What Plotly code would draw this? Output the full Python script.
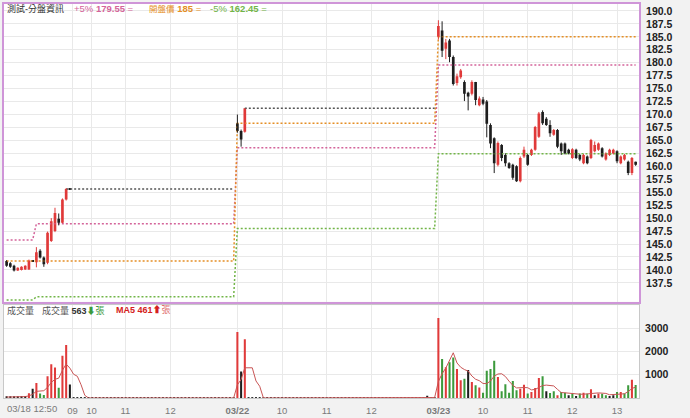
import numpy as np
import pandas as pd
import plotly.graph_objects as go

N_SLOTS = 170          # 5-minute slots along the shared time axis
X_RANGE = [-0.7, 169.9]

# ---- 03/18 session (from 12:50) ----
d1_start = 0
d1_open  = [141.7, 141.3, 140.8, 139.9, 140.0, 140.1, 140.1, 141.7, 141.5, 143.7, 142.4, 141.4, 145.6, 147.5, 149.9, 149.1, 153.6, 155.6]
d1_high  = [141.9, 141.5, 141.0, 140.5, 140.7, 140.9, 142.0, 141.8, 144.4, 144.0, 142.6, 147.4, 150.0, 152.0, 150.9, 153.8, 155.8, 155.6]
d1_low   = [140.6, 140.4, 139.7, 139.8, 139.9, 140.0, 140.0, 141.6, 140.5, 142.2, 140.6, 141.1, 145.4, 147.3, 148.6, 149.0, 153.4, 155.6]
d1_close = [140.8, 140.6, 139.9, 140.4, 140.6, 140.8, 141.8, 141.7, 143.4, 142.4, 141.1, 147.2, 149.4, 151.0, 149.1, 153.6, 155.6, 155.6]
d1_vol   = [40, 40, 40, 40, 90, 90, 200, 400, 650, 190, 130, 940, 1450, 1320, 440, 1820, 2280, 580]
d1_dir   = list('kkkkkkrkrggrrrgrrk')

# ---- 03/22 session ----
d2_start = 62
d2_open  = [168.3, 166.8, 166.7]
d2_high  = [170.0, 167.1, 171.2]
d2_low   = [166.5, 163.8, 166.5]
d2_close = [166.8, 165.2, 171.2]
d2_vol   = [2840, 1140, 2530]
d2_dir   = list('rkr')
late_slot = [113]
late_vol  = [100]
late_dir  = ['k']

# ---- 03/23 session ----
d3_start = 116
d3_open  = [185.0, 186.2, 182.7, 184.3, 181.1, 176.1, 177.2, 176.3, 174.2, 174.0, 176.3, 171.8, 172.9,
            172.5, 168.0, 165.4, 160.3, 164.1, 162.2, 160.6, 160.3, 160.0, 157.1, 161.9, 162.2, 162.2, 163.2,
            165.7, 170.5, 169.2, 168.0, 166.1, 167.0, 164.4, 164.4, 163.2, 161.6, 163.2, 162.2, 160.6, 161.9,
            161.6, 162.9, 163.2, 163.5, 161.3, 162.2, 162.5, 162.9, 160.6, 161.3, 160.9, 158.7, 160.9]
d3_close = [187.1, 182.3, 183.9, 181.1, 175.9, 177.4, 178.5, 174.0, 173.5, 176.3, 172.8, 173.1, 172.1,
            168.2, 164.4, 160.6, 164.5, 161.6, 160.6, 159.7, 157.8, 157.1, 161.6, 163.2, 160.3, 163.2, 167.6,
            170.2, 168.3, 168.0, 166.4, 167.0, 163.8, 162.9, 162.5, 162.5, 163.3, 161.6, 161.3, 162.2, 160.6,
            165.1, 164.1, 164.4, 161.9, 162.5, 163.2, 163.2, 161.0, 161.9, 162.2, 158.7, 161.6, 160.3]
d3_high  = [188.2, 188.0, 184.6, 184.6, 181.4, 177.9, 178.8, 176.6, 174.4, 176.6, 176.3, 173.5, 173.4,
            172.8, 168.3, 165.6, 164.8, 164.3, 162.5, 160.8, 160.5, 160.2, 161.9, 163.8, 162.4, 163.4, 167.8,
            170.5, 170.8, 169.5, 168.9, 167.2, 167.2, 164.6, 164.6, 163.4, 163.5, 163.4, 162.4, 162.4, 162.1,
            165.3, 164.8, 164.6, 163.7, 162.7, 163.4, 163.4, 163.1, 162.1, 162.4, 161.1, 161.8, 160.9]
d3_low   = [184.5, 181.1, 180.7, 180.1, 175.6, 175.6, 176.9, 172.6, 170.8, 173.7, 171.8, 171.6, 171.8,
            165.6, 163.5, 158.7, 160.0, 161.0, 160.0, 159.5, 157.4, 157.0, 156.9, 161.6, 160.1, 162.0, 163.0,
            165.5, 168.0, 167.8, 165.7, 165.9, 163.5, 162.2, 162.3, 162.3, 161.4, 161.4, 161.0, 160.4, 160.4,
            161.4, 162.7, 163.0, 161.7, 161.1, 162.0, 162.3, 160.6, 160.4, 161.1, 158.3, 158.3, 160.1]
d3_vol   = [3450, 1680, 1330, 1540, 1750, 1250, 760, 830, 1210, 690, 550, 450, 230,
            1180, 1250, 1610, 900, 290, 590, 230, 730, 330, 400, 570, 190, 260, 430,
            860, 940, 290, 220, 290, 120, 260, 230, 120, 190, 90, 190, 230, 180,
            380, 120, 190, 180, 120, 90, 120, 260, 260, 190, 550, 790, 563]
d3_dir   = list('rgrggrrgkrgrg' + 'gggrgggggrrgrrrgkggrggkgkgrgrkrggkkgrggrg')

# reference lines: +5% / open / -5% / last close
band_start = [0, 8, 62, 116]
band_up    = [145.8, 148.9, 163.6, 179.55]
band_dn    = [134.2, 134.8, 148.0, 162.45]
open_start = [0, 62, 116]
open_lvl   = [141.7, 168.3, 185.0]
close_from = [16, 64]
close_to   = [61, 115]
close_lvl  = [155.6, 171.2]

tick_slots = [17.7, 22.8, 31.9, 44.0, 62, 74, 86, 98, 116, 128, 140, 152, 164]
tick_text  = ['09', '10', '11', '12', '<b>03/22</b>', '10', '11', '12', '<b>03/23</b>', '10', '11', '12', '13']
first_label = '03/18 12:50'
price_ticks = [137.5 + 2.5 * i for i in range(22)]
vol_ticks = [1000, 2000, 3000]
title_text = '測試-分盤資訊'
ma5_shown = 461

FONT = 'Liberation Sans, Noto Sans CJK TC, sans-serif'
PURPLE = '#cf95d8'
GRID = '#e9e9e9'
RED = '#e03a3a'
GREEN = '#3c9a3c'
BLACK = '#1e1e1e'
PINK = '#d4649a'
ORANGE = '#e58f26'
LGREEN = '#72b548'


def px_x(px):
    return (px - 2) / 637


def px_y(py):
    return (400 - py) / 397


def fill_steps(starts, levels):
    y = np.empty(N_SLOTS)
    bounds = list(starts) + [N_SLOTS]
    for i, lv in enumerate(levels):
        y[bounds[i]:bounds[i + 1]] = lv
    return y


slots = np.arange(N_SLOTS)

# candles
cx, co, ch, cl, cc = [], [], [], [], []
for start, o, h, l, c in [(d1_start, d1_open, d1_high, d1_low, d1_close),
                          (d2_start, d2_open, d2_high, d2_low, d2_close),
                          (d3_start, d3_open, d3_high, d3_low, d3_close)]:
    cx += list(range(start, start + len(o)))
    co += o; ch += h; cl += l; cc += c
cx, co, ch, cl, cc = map(np.array, (cx, co, ch, cl, cc))
up = cc > co

# volume
vol = np.zeros(N_SLOTS)
vdir = np.array(['k'] * N_SLOTS, dtype=object)
for start, v, d in [(d1_start, d1_vol, d1_dir), (d2_start, d2_vol, d2_dir), (d3_start, d3_vol, d3_dir)]:
    vol[start:start + len(v)] = v
    vdir[start:start + len(v)] = d
for s, v, d in zip(late_slot, late_vol, late_dir):
    vol[s] = v
    vdir[s] = d
ma5 = pd.Series(vol).rolling(5, min_periods=1).mean()
vcol = {'r': RED, 'g': GREEN, 'k': BLACK}

fig = go.Figure()

# step lines in price panel
dotted = '2px,2px'
fig.add_trace(go.Scatter(x=slots, y=fill_steps(band_start, band_dn), mode='lines',
                         line=dict(color=LGREEN, width=1.5, dash=dotted), xaxis='x2', yaxis='y'))
fig.add_trace(go.Scatter(x=slots, y=fill_steps(band_start, band_up), mode='lines',
                         line=dict(color=PINK, width=1.5, dash=dotted), xaxis='x2', yaxis='y'))
fig.add_trace(go.Scatter(x=slots, y=fill_steps(open_start, open_lvl), mode='lines',
                         line=dict(color=ORANGE, width=1.5, dash=dotted), xaxis='x2', yaxis='y'))
kx, ky = [], []
for a, b, lv in zip(close_from, close_to, close_lvl):
    kx += [a, b, None]
    ky += [lv, lv, None]
fig.add_trace(go.Scatter(x=kx, y=ky, mode='lines', line=dict(color='#555555', width=1.5, dash=dotted),
                         xaxis='x2', yaxis='y'))

# wicks
for mask, col in [(up, RED), (~up, BLACK)]:
    wx, wy = [], []
    for s, h, l in zip(cx[mask], ch[mask], cl[mask]):
        wx += [s, s, None]
        wy += [l, h, None]
    fig.add_trace(go.Scatter(x=wx, y=wy, mode='lines', line=dict(color=col, width=1),
                             xaxis='x2', yaxis='y'))

# bodies
fig.add_trace(go.Bar(x=cx, y=np.maximum(np.abs(cc - co), 0.15), base=np.minimum(co, cc),
                     width=0.72, marker=dict(color=[RED if u else BLACK for u in up], line_width=0),
                     xaxis='x2', yaxis='y'))

# volume bars
nz = vol > 0
fig.add_trace(go.Bar(x=slots[nz], y=vol[nz], width=0.55,
                     marker=dict(color=[vcol[d] for d in vdir[nz]], line_width=0),
                     xaxis='x', yaxis='y2'))
fig.add_trace(go.Scatter(x=slots[~nz], y=vol[~nz], mode='markers', cliponaxis=False,
                         marker=dict(symbol='square', size=2, color='#333333'),
                         xaxis='x', yaxis='y2'))
fig.add_trace(go.Scatter(x=slots, y=ma5, mode='lines', line=dict(color='#c85555', width=1),
                         xaxis='x', yaxis='y2'))

price_bottom = px_y(303)
vol_top = px_y(306.5)

fig.update_layout(
    width=690, height=418,
    margin=dict(l=2, r=51, t=3, b=18),
    paper_bgcolor='#f2f2f2', plot_bgcolor='white',
    showlegend=False, barmode='overlay', hovermode=False,
    font=dict(family=FONT, size=10, color='#333'),
    xaxis=dict(domain=[0, 1], anchor='y2', range=X_RANGE, tickvals=tick_slots, ticktext=tick_text,
               showgrid=True, gridcolor=GRID, zeroline=False, showline=True, linecolor='#c8c8c8',
               linewidth=1, mirror=True, ticks='', ticklabelstandoff=4,
               tickfont=dict(size=9.5, color='#7a7a7a')),
    xaxis2=dict(domain=[0, 1], anchor='y', matches='x', range=X_RANGE, tickvals=tick_slots,
                showticklabels=False, showgrid=True, gridcolor=GRID, zeroline=False, showline=True,
                linecolor=PURPLE, linewidth=2, mirror=True, ticks=''),
    yaxis=dict(domain=[price_bottom, 1], anchor='x2', side='right', range=[133.86, 191.34],
               tickvals=price_ticks, tickformat='.1f', showgrid=True, gridcolor=GRID, zeroline=False,
               showline=True, linecolor=PURPLE, linewidth=2, mirror=True, ticks='', ticklabelstandoff=3,
               tickfont=dict(size=10.5, color='#222', weight='bold')),
    yaxis2=dict(domain=[0, vol_top], anchor='x', side='right', range=[0, 4000], tickvals=vol_ticks,
                showgrid=True, gridcolor=GRID, zeroline=False, showline=True, linecolor='#c8c8c8',
                linewidth=1, mirror=True, ticks='', ticklabelstandoff=3,
                tickfont=dict(size=10.5, color='#222', weight='bold')),
)

hy = px_y(7.5)
header = [
    (3, 9, f'<span style="color:#333">{title_text}</span>'),
    (70, 9.5, f'<span style="color:{PINK}">+5% <b>{band_up[-1]:.2f}</b> =</span>'),
    (145, 9.5, f'<span style="color:{ORANGE}"><span style="font-size:8.5px">開盤價</span> '
               f'<b>{open_lvl[-1]:g}</b> =</span>'),
    (207, 9.5, f'<span style="color:{LGREEN}">-5% <b>{band_dn[-1]:.2f}</b> =</span>'),
]
vy = px_y(311.5)
vheader = [
    (3, 9, '<span style="color:#555">成交量</span>'),
    (38, 9, f'<span style="color:#555">成交量 </span><b>{int(vol[-1])}</b>'
            f'<span style="color:{GREEN}">⬇張</span>'),
    (112, 9, f'<span style="color:#d42020"><b>MA5 {ma5_shown}</b>⬆</span>'
             f'<span style="color:#e07070">張</span>'),
]
for x, s, t in header + vheader:
    fig.add_annotation(x=px_x(x), y=hy if (x, s, t) in header else vy, xref='paper', yref='paper',
                       text=t, showarrow=False, xanchor='left', yanchor='middle', font=dict(size=s))
fig.add_annotation(x=px_x(3), y=px_y(410.5), xref='paper', yref='paper', text=first_label,
                   showarrow=False, xanchor='left', yanchor='middle',
                   font=dict(size=9.5, color='#7a7a7a'))

fig.write_html('out.html', config={'displayModeBar': False},
               post_script="document.body.style.margin='0';document.body.style.overflow='hidden';")
